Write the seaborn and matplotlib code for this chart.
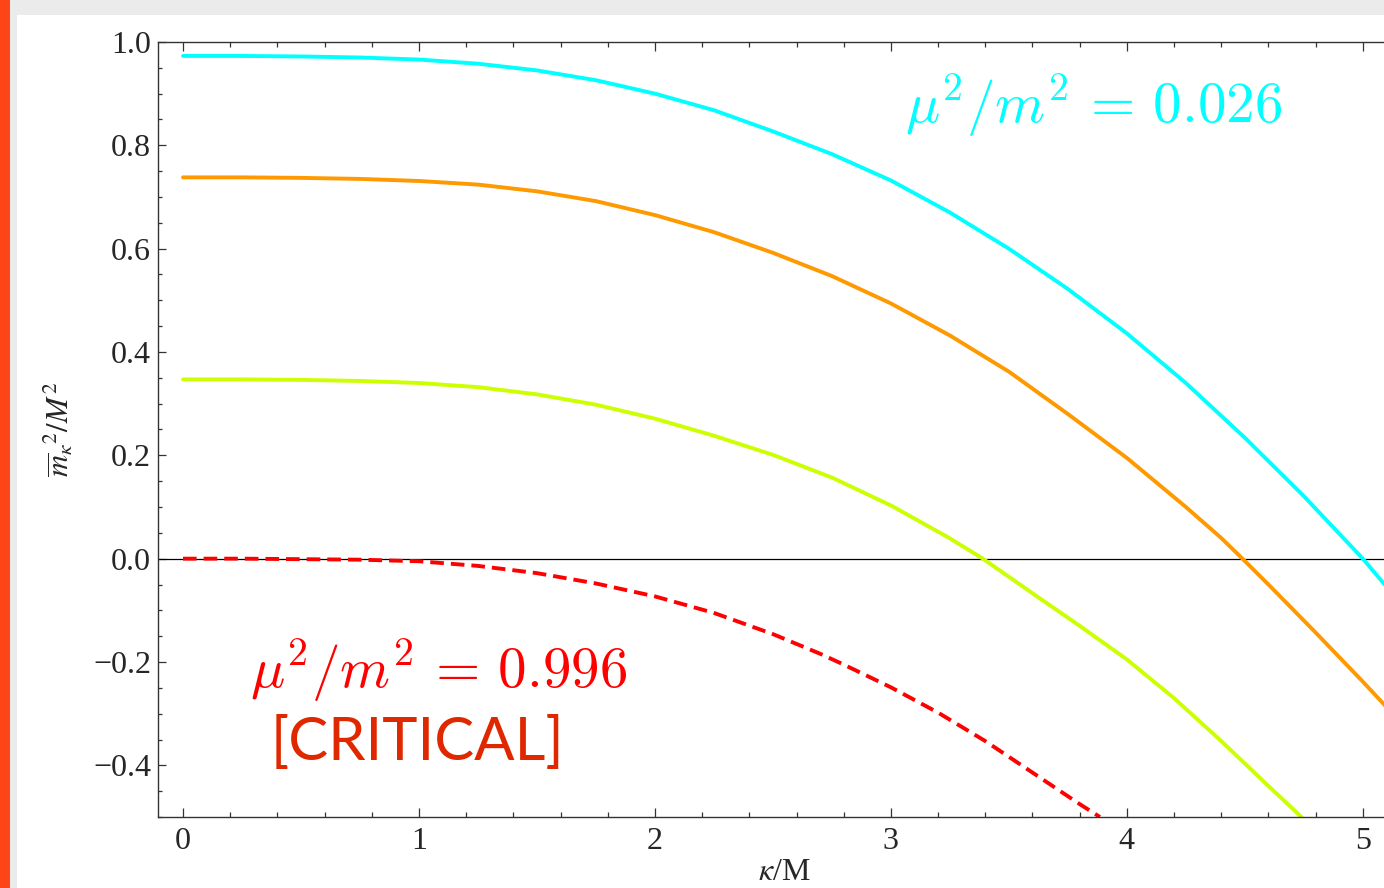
import matplotlib
matplotlib.use("Agg")
import matplotlib.pyplot as plt
import matplotlib.ticker as mticker
from matplotlib.patches import Rectangle
import seaborn as sns
import pandas as pd

# values
kappa_cyan = [0.0, 0.25, 0.5, 0.75, 1.0, 1.25, 1.5, 1.75, 2.0, 2.25, 2.5, 2.75,
              3.0, 3.25, 3.5, 3.75, 4.0, 4.25, 4.5, 4.75, 5.0, 5.1]
m2_cyan = [0.973, 0.973, 0.972, 0.970, 0.966, 0.958, 0.945, 0.926, 0.900, 0.868, 0.827, 0.783,
           0.732, 0.670, 0.600, 0.522, 0.436, 0.340, 0.234, 0.121, 0.0, -0.054]

kappa_orange = [0.0, 0.25, 0.5, 0.75, 1.0, 1.25, 1.5, 1.75, 2.0, 2.25, 2.5, 2.75,
                3.0, 3.25, 3.5, 3.75, 4.0, 4.25, 4.4, 4.49, 4.6, 4.8, 5.0, 5.1]
m2_orange = [0.738, 0.738, 0.737, 0.735, 0.731, 0.724, 0.711, 0.692, 0.665, 0.632, 0.592, 0.547,
             0.494, 0.432, 0.362, 0.280, 0.195, 0.100, 0.040, 0.0, -0.050, -0.143, -0.238, -0.287]

kappa_yellow = [0.0, 0.25, 0.5, 0.75, 1.0, 1.25, 1.5, 1.75, 2.0, 2.25, 2.5, 2.75,
                3.0, 3.24, 3.39, 3.6, 3.8, 4.0, 4.2, 4.4, 4.6, 4.74]
m2_yellow = [0.347, 0.347, 0.346, 0.344, 0.340, 0.332, 0.318, 0.298, 0.271, 0.238, 0.201, 0.157,
             0.103, 0.042, 0.0, -0.067, -0.130, -0.195, -0.270, -0.353, -0.440, -0.500]

kappa_red = [0.0, 0.25, 0.5, 0.75, 1.0, 1.25, 1.5, 1.75, 2.0, 2.25, 2.5, 2.7,
             2.8, 3.0, 3.2, 3.4, 3.6, 3.8, 3.886]
m2_red = [0.0, 0.0, -0.001, -0.002, -0.005, -0.014, -0.028, -0.048, -0.073, -0.105, -0.146, -0.184,
          -0.205, -0.249, -0.298, -0.353, -0.414, -0.475, -0.500]

curves = ["cyan", "orange", "yellow", "red"]
label_top = r"$\mu^2/m^2\,=\,0.026$"
label_bottom = r"$\mu^2/m^2\,=\,0.996$"
label_crit = "[CRITICAL]"

df = pd.concat([
    pd.DataFrame({"kappa": kappa_cyan, "m2": m2_cyan, "curve": "cyan"}),
    pd.DataFrame({"kappa": kappa_orange, "m2": m2_orange, "curve": "orange"}),
    pd.DataFrame({"kappa": kappa_yellow, "m2": m2_yellow, "curve": "yellow"}),
    pd.DataFrame({"kappa": kappa_red, "m2": m2_red, "curve": "red"}),
], ignore_index=True)

palette = {"cyan": "#00ffff", "orange": "#ff9900", "yellow": "#ccff00", "red": "#ff0000"}
dashes = {"cyan": "", "orange": "", "yellow": "", "red": (3.5, 1.8)}

sns.set_style("ticks")
plt.rcParams["font.family"] = ["Liberation Serif", "DejaVu Serif"]
plt.rcParams["mathtext.fontset"] = "stix"

W, H = 1384, 888
fig = plt.figure(figsize=(W / 100, H / 100), dpi=100, facecolor="#ebebeb")
# white page + orange side bar (behind the axes)
fig.patches.append(Rectangle((17 / W, 0), 1, (H - 15) / H, transform=fig.transFigure,
                             facecolor="white", edgecolor="none", zorder=-10))
fig.patches.append(Rectangle((0, 0), 10 / W, 1, transform=fig.transFigure,
                             facecolor="#ff4517", edgecolor="none", zorder=-10))

ax = fig.add_axes([158 / W, (H - 817) / H, 1252 / W, 775 / H])
ax.set_facecolor("white")

ax.axhline(0, color="black", lw=0.9, zorder=1)
sns.lineplot(data=df, x="kappa", y="m2", hue="curve", style="curve", hue_order=curves,
             style_order=curves, palette=palette, dashes=dashes, linewidth=2.8,
             sort=False, estimator=None, legend=False, ax=ax, zorder=2)

ax.set_xlim(-0.106, 5.2)
ax.set_ylim(-0.5, 1.0)
ax.xaxis.set_major_locator(mticker.MultipleLocator(1))
ax.xaxis.set_minor_locator(mticker.MultipleLocator(0.2))
ax.yaxis.set_major_locator(mticker.MultipleLocator(0.2))
ax.yaxis.set_minor_locator(mticker.MultipleLocator(0.05))
ax.tick_params(which="both", direction="in", top=True, right=False, color="#333333", width=0.9)
ax.tick_params(axis="x", which="major", length=6.5, pad=7, labelsize=23)
ax.tick_params(axis="x", which="minor", length=3.5)
ax.tick_params(axis="y", which="major", length=5.5, pad=5, labelsize=23)
ax.tick_params(axis="y", which="minor", length=3)
for s in ax.spines.values():
    s.set_color("#333333")
    s.set_linewidth(1.0)

ax.set_xlabel(r"$\kappa$/M", fontsize=23, va="baseline")
ax.xaxis.set_label_coords(0.5, -0.0813)
ax.set_ylabel(r"${\overline{m}_{\kappa}}^{2}/M^{2}$", fontsize=22)
ax.yaxis.set_label_coords(-0.066, 0.5)

ax.text(3.06, 0.843, label_top, color="#00ffff", fontsize=41, math_fontfamily="cm",
        ha="left", va="baseline")
ax.text(0.284, -0.25, label_bottom, color="#ff0000", fontsize=41, math_fontfamily="cm",
        ha="left", va="baseline")
ax.text(0.37, -0.389, label_crit, color="#e02800", fontsize=43, family="Lato",
        ha="left", va="baseline")

fig.savefig("out.png", dpi=100, facecolor=fig.get_facecolor())
